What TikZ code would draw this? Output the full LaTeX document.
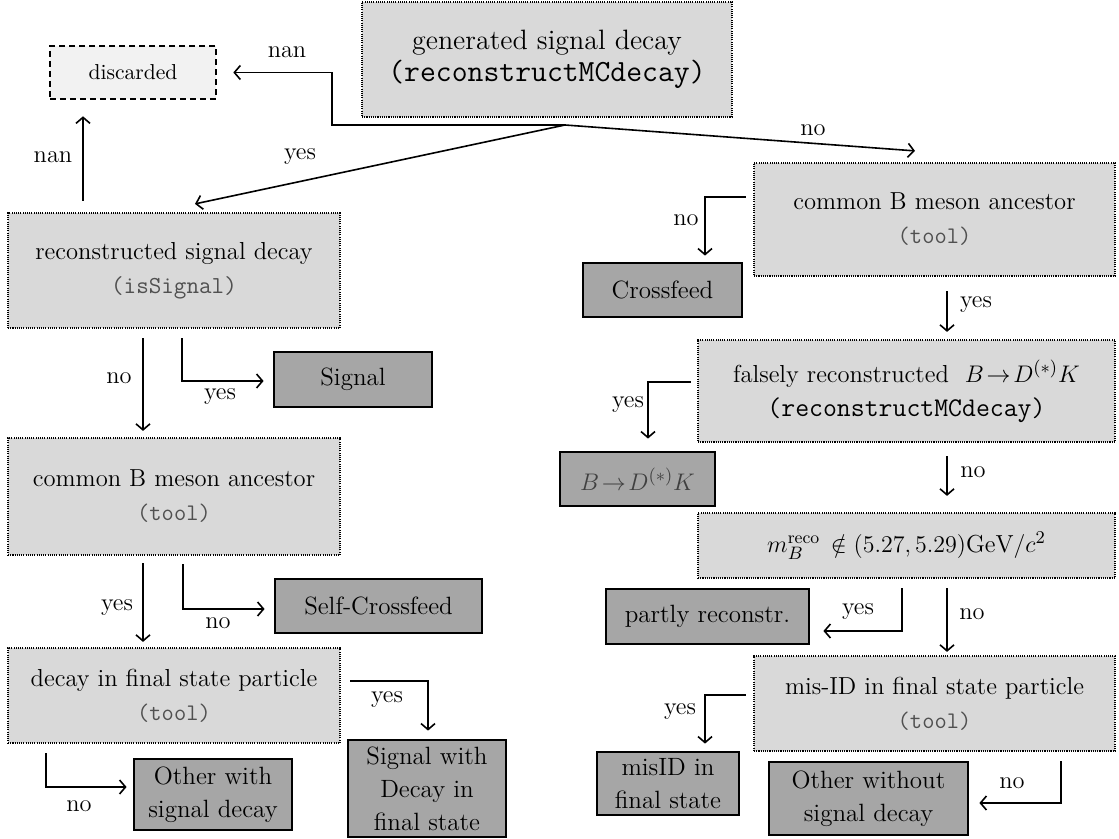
\documentclass[tikz,border=0pt]{standalone}
\usepackage{fontspec}
\usetikzlibrary{arrows.meta,calc}
\definecolor{qfill}{HTML}{D9D9D9}
\definecolor{rfill}{HTML}{A6A6A6}
\definecolor{dfill}{HTML}{F2F2F2}
\definecolor{monogray}{HTML}{505050}
\newcommand\tooltxt{{\ttfamily\fontsize{11.9}{12}\selectfont\color{monogray}(tool)}}
\tikzset{
  qbox/.style={draw, fill=qfill, line width=1.1pt, dash pattern=on 0.55pt off 0.55pt,
    inner sep=0pt, align=center, font=\fontsize{12.3}{17}\selectfont},
  rbox/.style={draw, fill=rfill, line width=1.4pt, inner sep=0pt, align=center,
    font=\fontsize{12.5}{16.5}\selectfont},
  discbox/.style={draw, fill=dfill, line width=1.3pt, dash pattern=on 3pt off 2pt,
    inner sep=0pt, align=center, font=\fontsize{10.8}{13}\selectfont},
  arr/.style={-{Straight Barb[length=3pt,width=7pt]}, line width=0.8pt},
  lab/.style={inner sep=0pt, font=\fontsize{12.2}{14}\selectfont}
}
\begin{document}
\begin{tikzpicture}[x=0.5pt,y=-0.5pt]
\useasboundingbox (0,0) rectangle (1119,839);
% decision boxes
\node[qbox, font=\fontsize{14}{16}\selectfont, minimum width=185pt, minimum height=57.5pt] (gen) at (547,59.5)
  {generated signal decay\\{\ttfamily\fontsize{15.4}{16}\selectfont(reconstructMCdecay)}};
\node[discbox, minimum width=83pt, minimum height=26.5pt] (disc) at (133,72.5) {discarded};
\node[qbox, minimum width=166pt, minimum height=57.5pt] (recon) at (174,270.5)
  {reconstructed signal decay\\{\ttfamily\fontsize{12.2}{12}\selectfont\color{monogray}(isSignal)}};
\node[qbox, minimum width=180.5pt, minimum height=56.5pt] (cbR) at (934.5,219.5)
  {common B meson ancestor\\\tooltxt};
\node[qbox, minimum width=208.5pt, minimum height=51pt] (falsely) at (906.5,391)
  {falsely reconstructed~~$B\!\to\! D^{(*)}K$\\{\ttfamily\fontsize{13.5}{14}\selectfont(reconstructMCdecay)}};
\node[qbox, minimum width=208.5pt, minimum height=32.5pt] (mB) at (906.5,545.5)
  {$m_B^{\mathrm{reco}}\,\notin(5.27,5.29)\mathrm{GeV}/c^2$};
\node[qbox, minimum width=180.5pt, minimum height=47.5pt] (misid) at (934.5,703.5)
  {mis-ID in final state particle\\\tooltxt};
\node[qbox, minimum width=166pt, minimum height=58.5pt] (cbL) at (174,496.5)
  {common B meson ancestor\\\tooltxt};
\node[qbox, minimum width=166pt, minimum height=47.5pt] (dfs) at (174,695.5)
  {decay in final state particle\\\tooltxt};
% result boxes
\node[rbox, minimum width=79.5pt, minimum height=27pt] (cross) at (662.5,290) {Crossfeed};
\node[rbox, minimum width=77.5pt, minimum height=27pt] (bdk) at (637.5,479) {\color{black!75}$B\!\to\! D^{(*)}K$};
\node[rbox, minimum width=101.5pt, minimum height=27.5pt] (partly) at (707.5,616.5) {partly reconstr.};
\node[rbox, minimum width=71pt, minimum height=31.5pt] (misidfs) at (668,783.5) {misID in\\final state};
\node[rbox, minimum width=99.5pt, minimum height=36.5pt] (otherwo) at (868.5,798.5) {Other without\\signal decay};
\node[rbox, minimum width=79pt, minimum height=27.5pt] (signal) at (353,379.5) {Signal};
\node[rbox, minimum width=103.5pt, minimum height=27pt] (selfcf) at (378.5,606) {Self-Crossfeed};
\node[rbox, minimum width=79pt, minimum height=48.5pt] (sigdfs) at (427,788.5) {Signal with\\Decay in\\final state};
\node[rbox, minimum width=79pt, minimum height=35.5pt] (otherw) at (213,794.5) {Other with\\signal decay};
% free points
\coordinate (split) at (565,125);
\coordinate (nanbend) at (332,125);
% connectors
\draw[arr, shorten >=8pt] (split) -- (nanbend) |- (disc.east);
\draw[arr] (split) -- ([xshift=10.5pt,yshift=4pt]recon.north);
\draw[arr] (split) -- ([xshift=-9.75pt,yshift=5.5pt]cbR.north);
\draw[arr] ([xshift=-45.5pt,yshift=5.5pt]recon.north) -- ([xshift=-25pt,yshift=-8pt]disc.south);
\draw[arr] ([xshift=-3.5pt,yshift=11.25pt]cbR.west) -| ([xshift=21.25pt,yshift=3pt]cross.north);
\draw[arr] ([xshift=6.25pt,yshift=-7pt]cbR.south) -- ([xshift=20.25pt,yshift=3.5pt]falsely.north);
\draw[arr] ([xshift=-3pt,yshift=4.5pt]falsely.west) -| ([xshift=5.25pt,yshift=6pt]bdk.north);
\draw[arr] ([xshift=20.25pt,yshift=-6.5pt]falsely.south) -- ([xshift=20.25pt,yshift=8pt]mB.north);
\draw[arr] ([xshift=-2.25pt,yshift=-4.5pt]mB.south) |- ([xshift=6.5pt,yshift=-7.25pt]partly.east);
\draw[arr] ([xshift=20.25pt,yshift=-4.5pt]mB.south) -- ([xshift=6.25pt,yshift=1.5pt]misid.north);
\draw[arr] ([xshift=-3.5pt,yshift=4.25pt]misid.west) -| ([xshift=18.5pt,yshift=3.5pt]misidfs.north);
\draw[arr] ([xshift=63.25pt,yshift=-4.5pt]misid.south) |- ([xshift=5pt,yshift=-2.25pt]otherwo.east);
\draw[arr] ([xshift=-15.5pt,yshift=-4.5pt]recon.south) -- ([xshift=-15.5pt,yshift=3pt]cbL.north);
\draw[arr] ([xshift=4pt,yshift=-4.5pt]recon.south) |- ([xshift=-4.5pt,yshift=-0.75pt]signal.west);
\draw[arr] ([xshift=-15.5pt,yshift=-3.5pt]cbL.south) -- ([xshift=-15.5pt,yshift=2.5pt]dfs.north);
\draw[arr] ([xshift=4.5pt,yshift=-4pt]cbL.south) |- ([xshift=-4.5pt,yshift=-1.5pt]selfcf.west);
\draw[arr] ([xshift=4.5pt,yshift=7.25pt]dfs.east) -| ([xshift=0.5pt,yshift=4pt]sigdfs.north);
\draw[arr] ([xshift=-64pt,yshift=-4.5pt]dfs.south) |- ([xshift=-3pt,yshift=3.75pt]otherw.west);
% labels
\node[lab] (l1) at (287,52) {nan};
\node[lab] (l2) at (300,157) {yes};
\node[lab] (l3) at (813,130) {no};
\node[lab] (l4) at (53,157) {nan};
\node[lab] (l5) at (686,220) {no};
\node[lab] (l6) at (976,305) {yes};
\node[lab] (l7) at (628,405) {yes};
\node[lab] (l8) at (973,472) {no};
\node[lab] (l9) at (858,612) {yes};
\node[lab] (l10) at (972,614) {no};
\node[lab] (l11) at (680,712) {yes};
\node[lab] (l12) at (1012,783) {no};
\node[lab] (l13) at (119,378) {no};
\node[lab] (l14) at (220,397) {yes};
\node[lab] (l15) at (117,608) {yes};
\node[lab] (l16) at (218,623) {no};
\node[lab] (l17) at (387,700) {yes};
\node[lab] (l18) at (79,806) {no};
\end{tikzpicture}
\end{document}
